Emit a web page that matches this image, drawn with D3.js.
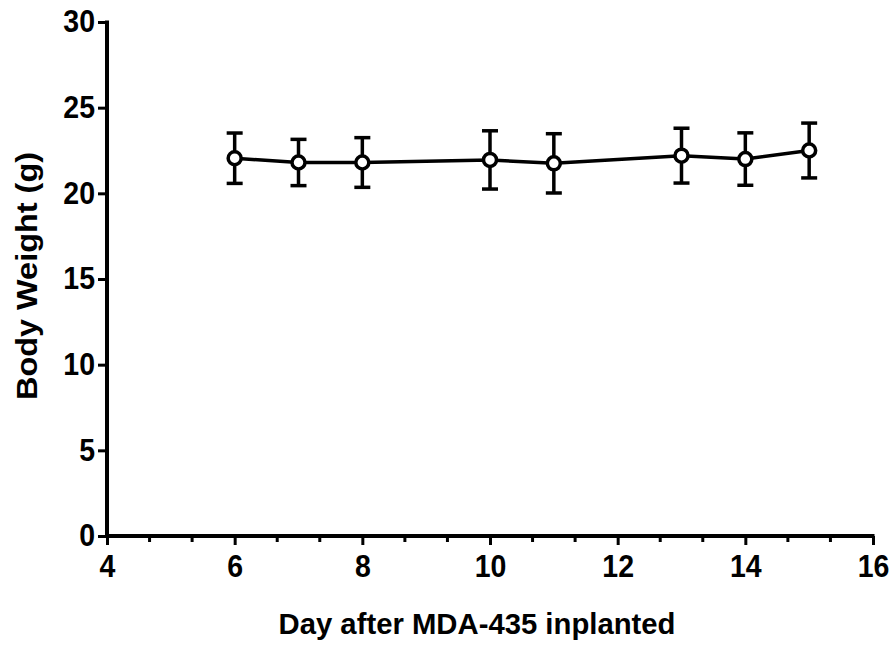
<!DOCTYPE html>
<html>
<head>
<meta charset="utf-8">
<script src="https://cdn.jsdelivr.net/npm/d3@7"></script>
<style>
  body { margin: 0; background: #fff; }
  svg text { font-family: "Liberation Sans", Arial, sans-serif; font-weight: bold; fill: #000; }
</style>
</head>
<body>
<div id="app"></div>
<script>
// Data
const days = [6, 7, 8, 10, 11, 13, 14, 15];
const weights = [22.05, 21.8, 21.8, 21.95, 21.75, 22.2, 22.0, 22.5];
const errors = [1.47, 1.35, 1.45, 1.7, 1.73, 1.6, 1.53, 1.6];
const xTicks = [4, 6, 8, 10, 12, 14, 16];
const yTicks = [0, 5, 10, 15, 20, 25, 30];

const width = 893;
const height = 646;
const margin = { top: 22, right: 20, bottom: 110, left: 107 };

const svg = d3.select('#app')
  .append('svg')
  .attr('width', width)
  .attr('height', height);

const x = d3.scaleLinear().domain([4, 16]).range([margin.left, 873]);
const y = d3.scaleLinear().domain([0, 30]).range([536, margin.top]);

// minor ticks on x every 2/3 day
const minorTicks = d3.range(0, 19).map((i) => 4 + (i * 2) / 3)
  .filter((v) => Math.abs(v - Math.round(v / 2) * 2) > 0.01);

const xAxis = svg.append('g')
  .attr('transform', `translate(0,${y(0)})`)
  .call(d3.axisBottom(x).tickValues(xTicks).tickSize(9).tickPadding(10).tickFormat(d3.format('d')));

svg.append('g')
  .attr('transform', `translate(0,${y(0)})`)
  .selectAll('line')
  .data(minorTicks)
  .enter()
  .append('line')
  .attr('x1', (d) => x(d))
  .attr('x2', (d) => x(d))
  .attr('y1', 0)
  .attr('y2', 6)
  .attr('stroke', '#000')
  .attr('stroke-width', 3);

const yAxis = svg.append('g')
  .attr('transform', `translate(${x(4)},0)`)
  .call(d3.axisLeft(y).tickValues(yTicks).tickSize(9).tickPadding(3).tickFormat(d3.format('d')));

// tall, slightly condensed digits like the original
[xAxis, yAxis].forEach((g) => {
  g.select('.domain').remove();
  g.selectAll('.tick line').attr('stroke', '#000').attr('stroke-width', 3);
  g.selectAll('.tick text')
    .style('font-size', '31px')
    .attr('fill', '#000')
    .attr('textLength', (d) => String(d).length * 0.556 * 28.5)
    .attr('lengthAdjust', 'spacingAndGlyphs');
});

// axis lines
svg.append('line')
  .attr('x1', x(4) - 2).attr('x2', x(16) + 1.5)
  .attr('y1', y(0)).attr('y2', y(0))
  .attr('stroke', '#000').attr('stroke-width', 4);
svg.append('line')
  .attr('x1', x(4)).attr('x2', x(4))
  .attr('y1', y(30) - 1.5).attr('y2', y(0) + 2)
  .attr('stroke', '#000').attr('stroke-width', 4);

const points = days.map((d, i) => ({ day: d, w: weights[i], e: errors[i] }));

// connecting line
svg.append('path')
  .datum(points)
  .attr('fill', 'none')
  .attr('stroke', '#000')
  .attr('stroke-width', 3.5)
  .attr('d', d3.line().x((d) => x(d.day)).y((d) => y(d.w)));

// error bars
const capW = 8;
const eb = svg.append('g').attr('stroke', '#000').attr('stroke-width', 3.5);
eb.selectAll('.stem')
  .data(points)
  .enter()
  .append('line')
  .attr('x1', (d) => x(d.day))
  .attr('x2', (d) => x(d.day))
  .attr('y1', (d) => y(d.w + d.e))
  .attr('y2', (d) => y(d.w - d.e));
eb.selectAll('.capTop')
  .data(points)
  .enter()
  .append('line')
  .attr('x1', (d) => x(d.day) - capW)
  .attr('x2', (d) => x(d.day) + capW)
  .attr('y1', (d) => y(d.w + d.e))
  .attr('y2', (d) => y(d.w + d.e));
eb.selectAll('.capBot')
  .data(points)
  .enter()
  .append('line')
  .attr('x1', (d) => x(d.day) - capW)
  .attr('x2', (d) => x(d.day) + capW)
  .attr('y1', (d) => y(d.w - d.e))
  .attr('y2', (d) => y(d.w - d.e));

// open circle markers
svg.selectAll('circle')
  .data(points)
  .enter()
  .append('circle')
  .attr('cx', (d) => x(d.day))
  .attr('cy', (d) => y(d.w))
  .attr('r', 6.5)
  .attr('fill', '#fff')
  .attr('stroke', '#000')
  .attr('stroke-width', 3.5);

// axis titles
svg.append('text')
  .attr('x', 477)
  .attr('y', 634)
  .attr('text-anchor', 'middle')
  .attr('textLength', 397)
  .attr('lengthAdjust', 'spacingAndGlyphs')
  .style('font-size', '30px')
  .text('Day after MDA-435 inplanted');

svg.append('text')
  .attr('transform', `translate(37,276) rotate(-90)`)
  .attr('text-anchor', 'middle')
  .attr('textLength', 248)
  .attr('lengthAdjust', 'spacingAndGlyphs')
  .style('font-size', '30px')
  .text('Body Weight (g)');
</script>
</body>
</html>
